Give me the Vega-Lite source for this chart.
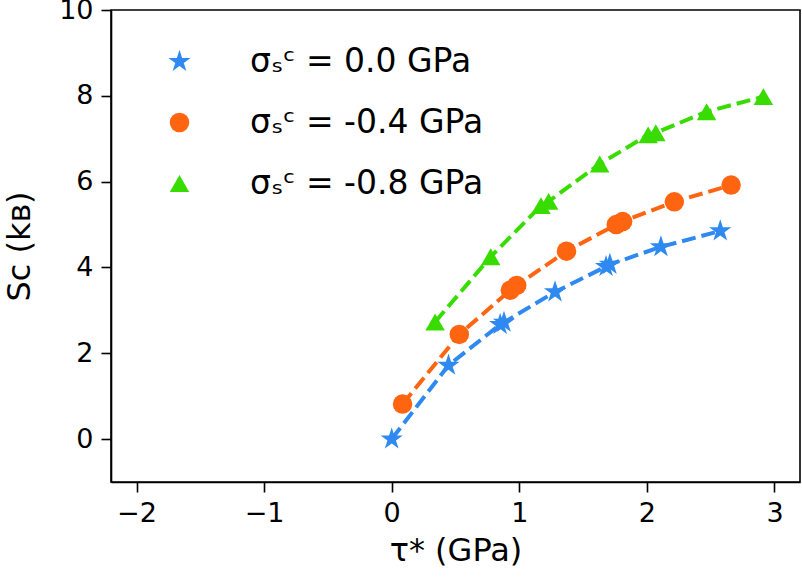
{
  "$schema": "https://vega.github.io/schema/vega-lite/v6.json",
  "width": 689,
  "height": 472,
  "autosize": "none",
  "padding": {"left": 111, "top": 10, "right": 2, "bottom": 106},
  "background": "white",
  "config": {
    "font": "DejaVu Sans",
    "view": {"stroke": "black", "strokeWidth": 1.6},
    "axis": {
      "grid": false,
      "domainColor": "black",
      "domainWidth": 1.6,
      "tickColor": "black",
      "tickWidth": 1.6,
      "tickSize": 10,
      "labelFont": "DejaVu Sans",
      "labelFontSize": 27,
      "labelColor": "black",
      "labelPadding": 8,
      "titleFont": "DejaVu Sans",
      "titleFontSize": 32,
      "titleFontWeight": "normal",
      "titleColor": "black"
    },
    "legend": {
      "orient": "none", "legendX": 52, "legendY": 35, "title": null,
      "labelFontSize": 33, "labelFont": "DejaVu Sans", "labelColor": "black",
      "symbolSize": 380, "labelOffset": 54, "rowPadding": 27, "padding": 0,
      "symbolStrokeWidth": 0, "symbolOpacity": 1, "labelLimit": 400
    }
  },
  "data": {
    "values": [
      {"series": "σₛᶜ = 0.0 GPa", "tau": 0.0, "s": 0.0},
      {"series": "σₛᶜ = 0.0 GPa", "tau": 0.445, "s": 1.72},
      {"series": "σₛᶜ = 0.0 GPa", "tau": 0.85, "s": 2.67},
      {"series": "σₛᶜ = 0.0 GPa", "tau": 0.88, "s": 2.72},
      {"series": "σₛᶜ = 0.0 GPa", "tau": 1.28, "s": 3.43},
      {"series": "σₛᶜ = 0.0 GPa", "tau": 1.68, "s": 4.02},
      {"series": "σₛᶜ = 0.0 GPa", "tau": 1.71, "s": 4.07},
      {"series": "σₛᶜ = 0.0 GPa", "tau": 2.11, "s": 4.48},
      {"series": "σₛᶜ = 0.0 GPa", "tau": 2.575, "s": 4.85},
      {"series": "σₛᶜ = -0.4 GPa", "tau": 0.085, "s": 0.815},
      {"series": "σₛᶜ = -0.4 GPa", "tau": 0.53, "s": 2.44},
      {"series": "σₛᶜ = -0.4 GPa", "tau": 0.93, "s": 3.47},
      {"series": "σₛᶜ = -0.4 GPa", "tau": 0.98, "s": 3.58},
      {"series": "σₛᶜ = -0.4 GPa", "tau": 1.37, "s": 4.38},
      {"series": "σₛᶜ = -0.4 GPa", "tau": 1.76, "s": 5.0},
      {"series": "σₛᶜ = -0.4 GPa", "tau": 1.81, "s": 5.07},
      {"series": "σₛᶜ = -0.4 GPa", "tau": 2.215, "s": 5.53},
      {"series": "σₛᶜ = -0.4 GPa", "tau": 2.66, "s": 5.92},
      {"series": "σₛᶜ = -0.8 GPa", "tau": 0.34, "s": 2.73},
      {"series": "σₛᶜ = -0.8 GPa", "tau": 0.776, "s": 4.25},
      {"series": "σₛᶜ = -0.8 GPa", "tau": 1.17, "s": 5.44},
      {"series": "σₛᶜ = -0.8 GPa", "tau": 1.23, "s": 5.54},
      {"series": "σₛᶜ = -0.8 GPa", "tau": 1.63, "s": 6.41},
      {"series": "σₛᶜ = -0.8 GPa", "tau": 2.01, "s": 7.09},
      {"series": "σₛᶜ = -0.8 GPa", "tau": 2.07, "s": 7.14},
      {"series": "σₛᶜ = -0.8 GPa", "tau": 2.468, "s": 7.63},
      {"series": "σₛᶜ = -0.8 GPa", "tau": 2.913, "s": 7.98}
    ]
  },
  "encoding": {
    "x": {
      "field": "tau",
      "type": "quantitative",
      "scale": {"domain": [-2.2, 3.2], "nice": false, "zero": false},
      "axis": {"values": [-2, -1, 0, 1, 2, 3], "title": "τ* (GPa)", "titlePadding": 9}
    },
    "y": {
      "field": "s",
      "type": "quantitative",
      "scale": {"domain": [-1, 10], "nice": false, "zero": false},
      "axis": {"values": [0, 2, 4, 6, 8, 10], "title": "Sᴄ (kʙ)", "titlePadding": 22}
    }
  },
  "layer": [
    {
      "mark": {"type": "line", "strokeDash": [14, 6], "strokeWidth": 4},
      "encoding": {
        "color": {
          "field": "series",
          "type": "nominal",
          "scale": {"domain": ["σₛᶜ = 0.0 GPa", "σₛᶜ = -0.4 GPa", "σₛᶜ = -0.8 GPa"], "range": ["#2e89f0", "#ff6410", "#38dc00"]}
        },
        "order": {"field": "tau", "type": "quantitative"}
      }
    },
    {
      "mark": {"type": "point", "filled": true, "opacity": 1, "size": 380, "strokeWidth": 0},
      "encoding": {
        "color": {
          "field": "series",
          "type": "nominal",
          "scale": {"domain": ["σₛᶜ = 0.0 GPa", "σₛᶜ = -0.4 GPa", "σₛᶜ = -0.8 GPa"], "range": ["#2e89f0", "#ff6410", "#38dc00"]}
        },
        "shape": {
          "field": "series",
          "type": "nominal",
          "scale": {"domain": ["σₛᶜ = 0.0 GPa", "σₛᶜ = -0.4 GPa", "σₛᶜ = -0.8 GPa"], "range": ["M0,-1.2L0.269,-0.371L1.141,-0.371L0.436,0.142L0.706,0.971L0,0.458L-0.706,0.971L-0.436,0.142L-1.141,-0.371L-0.269,-0.371Z", "circle", "triangle-up"]}
        }
      }
    }
  ]
}
